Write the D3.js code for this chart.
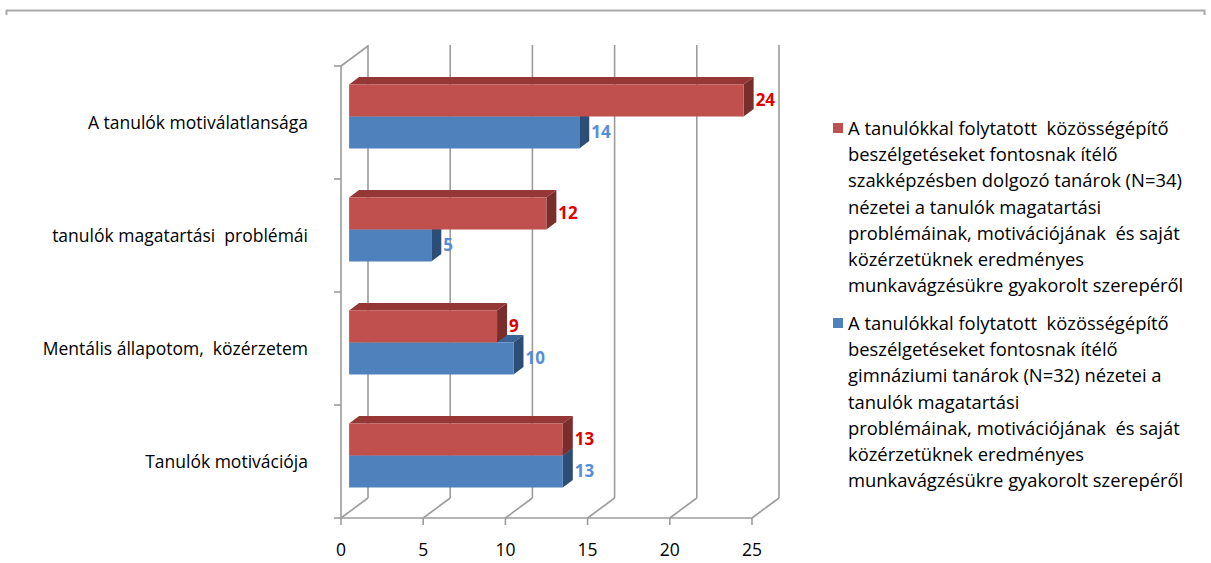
<!DOCTYPE html>
<html>
<head>
<meta charset="utf-8">
<script src="https://cdn.jsdelivr.net/npm/d3@7"></script>
<style>
  html, body { margin: 0; padding: 0; background: #fff; }
  svg { display: block; }
  text { font-family: "Open Sans", "Noto Sans", sans-serif; white-space: pre; }
</style>
</head>
<body>
<svg id="chart" width="1211" height="563"></svg>
<script>
// Categories, top to bottom
const categories = [
  "A tanulók motiválatlansága",
  "tanulók magatartási  problémái",
  "Mentális állapotom,  közérzetem",
  "Tanulók motivációja"
];
// Vocational-school teachers (N=34)
const seriesSzak = [24, 12, 9, 13];
// Grammar-school teachers (N=32)
const seriesGimn = [14, 5, 10, 13];
const xTicks = [0, 5, 10, 15, 20, 25];
const seriesNames = ["szak", "gimn"];

const legendSzak = [
  "A tanulókkal folytatott  közösségépítő",
  "beszélgetéseket fontosnak ítélő",
  "szakképzésben dolgozó tanárok (N=34)",
  "nézetei a tanulók magatartási",
  "problémáinak, motivációjának  és saját",
  "közérzetüknek eredményes",
  "munkavágzésükre gyakorolt szerepéről"
];
const legendGimn = [
  "A tanulókkal folytatott  közösségépítő",
  "beszélgetéseket fontosnak ítélő",
  "gimnáziumi tanárok (N=32) nézetei a",
  "tanulók magatartási",
  "problémáinak, motivációjának  és saját",
  "közérzetüknek eredményes",
  "munkavágzésükre gyakorolt szerepéről"
];

const svg = d3.select("#chart");

// Plot frame (front plane) and depth vector of the 3D box
const plot = { left: 341, right: 752, top: 66, bottom: 518 };
const depth = { dx: 27, dy: -20 };
const barDepth = [0.3, 0.67];   // bar front/back as a fraction of box depth

const x = d3.scaleLinear().domain([0, 25]).range([plot.left, plot.right]);
const y = d3.scaleBand().domain(categories).range([plot.top, plot.bottom]);
const pairH = 64;
const sub = d3.scaleBand().domain(seriesNames)
  .range([(y.bandwidth() - pairH) / 2, (y.bandwidth() + pairH) / 2]);

const P = (px, py, d) => [px + d * depth.dx, py + d * depth.dy];

const palette = {
  szak: { front: "#C0504D", top: "#953735", side: "#7A2E2C", label: "#E00000" },
  gimn: { front: "#4F81BD", top: "#3A6496", side: "#2C4D75", label: "#558ED5" }
};

// Top frame line
svg.append("path")
  .attr("d", "M6.5,15 V10.5 H1204.5 V15")
  .attr("fill", "none").attr("stroke", "#a9a9a9").attr("stroke-width", 2);

const grid = svg.append("g").attr("stroke", "#9c9c9c").attr("stroke-width", 1.6).attr("fill", "none");

// Back-wall gridlines and floor diagonals
xTicks.forEach(t => {
  const b0 = P(x(t), plot.bottom, 1), b1 = P(x(t), plot.top, 1);
  grid.append("line").attr("x1", b0[0]).attr("y1", b0[1]).attr("x2", b1[0]).attr("y2", b1[1] - 1);
  grid.append("line").attr("x1", x(t)).attr("y1", plot.bottom).attr("x2", b0[0]).attr("y2", b0[1]);
});
// Left wall
const lt = P(plot.left, plot.top, 1);
grid.append("line").attr("x1", plot.left).attr("y1", plot.top).attr("x2", lt[0]).attr("y2", lt[1]);
grid.append("line").attr("x1", plot.left).attr("y1", plot.top).attr("x2", plot.left).attr("y2", plot.bottom);
// Front floor edge
grid.append("line").attr("x1", plot.left).attr("y1", plot.bottom).attr("x2", plot.right).attr("y2", plot.bottom);
// Axis ticks
xTicks.forEach(t => grid.append("line").attr("x1", x(t)).attr("y1", plot.bottom).attr("x2", x(t)).attr("y2", plot.bottom + 7));
const catEdges = categories.map(c => y(c)).concat([plot.bottom]);
catEdges.forEach(v => grid.append("line").attr("x1", plot.left - 7).attr("y1", v).attr("x2", plot.left).attr("y2", v));

// Bars: draw lower series first so the upper one overlaps its top face
const bars = svg.append("g");
const seriesData = { szak: seriesSzak, gimn: seriesGimn };
["gimn", "szak"].forEach(s => {
  categories.forEach((c, i) => {
    const v = seriesData[s][i];
    const y0 = y(c) + sub(s), y1 = y0 + sub.bandwidth();
    const f = barDepth[0], b = barDepth[1];
    const ftl = P(x(0), y0, f), ftr = P(x(v), y0, f), fbr = P(x(v), y1, f), fbl = P(x(0), y1, f);
    const btl = P(x(0), y0, b), btr = P(x(v), y0, b), bbr = P(x(v), y1, b);
    const col = palette[s];
    const poly = pts => "M" + pts.map(p => p.join(",")).join("L") + "Z";
    bars.append("path").attr("d", poly([ftl, ftr, btr, btl])).attr("fill", col.top);
    bars.append("path").attr("d", poly([ftr, btr, bbr, fbr])).attr("fill", col.side);
    bars.append("path").attr("d", poly([ftl, ftr, fbr, fbl])).attr("fill", col.front);
  });
});

// Value labels
const labels = svg.append("g").attr("font-weight", "bold").attr("font-size", 17);
["szak", "gimn"].forEach(s => {
  categories.forEach((c, i) => {
    const v = seriesData[s][i];
    const yc = y(c) + sub(s) + sub.bandwidth() / 2;
    const p = P(x(v), yc, barDepth[1]);
    labels.append("text")
      .attr("x", p[0] + 2).attr("y", P(x(v), yc, barDepth[0])[1] + 1)
      .attr("dominant-baseline", "middle")
      .attr("fill", palette[s].label)
      .text(v);
  });
});

// Category labels
svg.append("g").selectAll("text").data(categories).join("text")
  .attr("x", 308).attr("y", d => y(d) + y.bandwidth() / 2 + 2)
  .attr("text-anchor", "end").attr("dominant-baseline", "middle")
  .attr("font-size", 17.5).attr("fill", "#000")
  .text(d => d);

// X tick labels
svg.append("g").selectAll("text").data(xTicks).join("text")
  .attr("x", d => x(d)).attr("y", 551)
  .attr("text-anchor", "middle").attr("dominant-baseline", "middle")
  .attr("font-size", 17.5).attr("fill", "#000")
  .text(d => d);

// Legend
const legend = svg.append("g");
const legendBlocks = [
  { key: "szak", lines: legendSzak, top: 130 },
  { key: "gimn", lines: legendGimn, top: 325 }
];
legendBlocks.forEach(blk => {
  legend.append("rect").attr("x", 833).attr("y", blk.top - 7).attr("width", 10).attr("height", 10)
    .attr("fill", palette[blk.key].front);
  blk.lines.forEach((ln, j) => {
    legend.append("text")
      .attr("x", 848).attr("y", blk.top + j * 26.2)
      .attr("dominant-baseline", "middle")
      .attr("font-size", 18.4).attr("fill", "#000")
      .text(ln);
  });
});
</script>
</body>
</html>
